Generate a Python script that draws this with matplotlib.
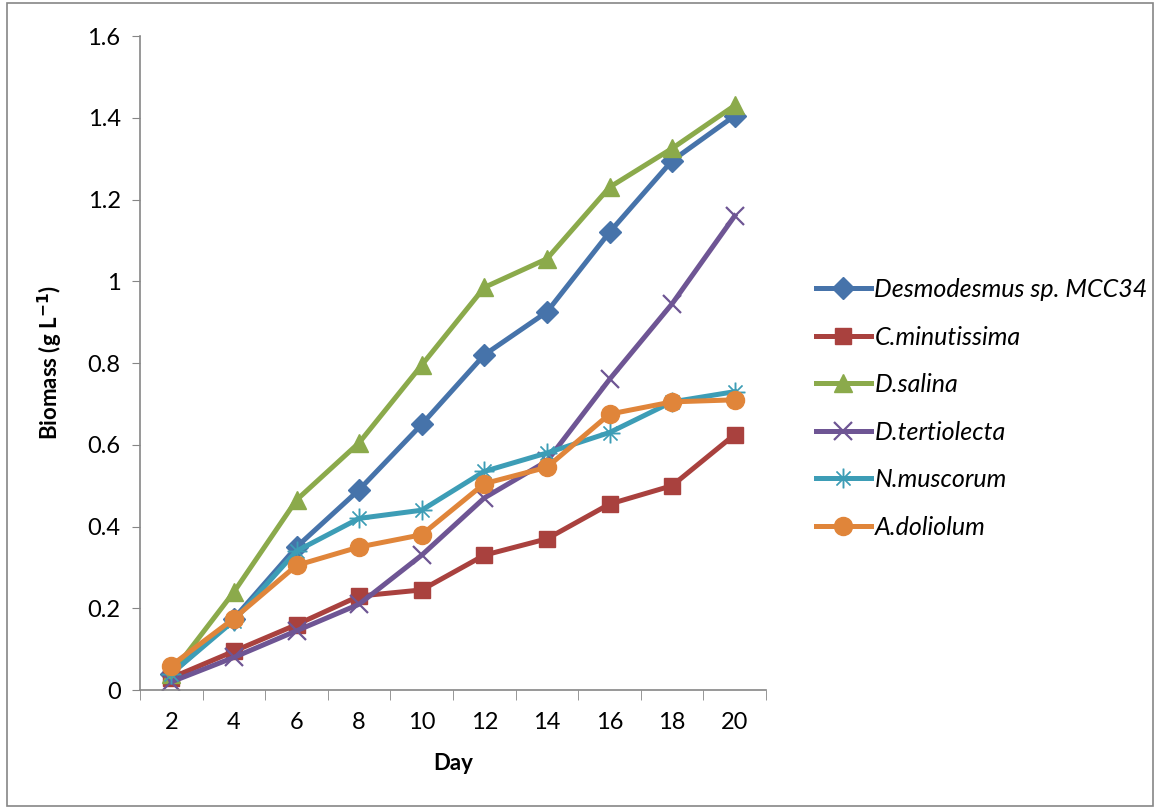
import matplotlib.pyplot as plt
from matplotlib.patches import Rectangle

days = [2, 4, 6, 8, 10, 12, 14, 16, 18, 20]

desmodesmus = [0.04, 0.175, 0.35, 0.49, 0.65, 0.82, 0.925, 1.12, 1.295, 1.405]
c_minutissima = [0.03, 0.095, 0.16, 0.23, 0.245, 0.33, 0.37, 0.455, 0.50, 0.625]
d_salina = [0.04, 0.24, 0.465, 0.605, 0.795, 0.985, 1.055, 1.23, 1.325, 1.43]
d_tertiolecta = [0.02, 0.08, 0.145, 0.21, 0.33, 0.47, 0.56, 0.76, 0.945, 1.16]
n_muscorum = [0.04, 0.17, 0.34, 0.42, 0.44, 0.535, 0.58, 0.63, 0.705, 0.73]
a_doliolum = [0.06, 0.175, 0.305, 0.35, 0.38, 0.505, 0.545, 0.675, 0.705, 0.71]

y_ticks = [0, 0.2, 0.4, 0.6, 0.8, 1.0, 1.2, 1.4, 1.6]
y_tick_labels = ["0", "0.2", "0.4", "0.6", "0.8", "1", "1.2", "1.4", "1.6"]

series = [
    ("Desmodesmus sp. MCC34", desmodesmus, "#4673AA", "D", 11),
    ("C.minutissima", c_minutissima, "#A9413E", "s", 12),
    ("D.salina", d_salina, "#8BAA4B", "^", 13),
    ("D.tertiolecta", d_tertiolecta, "#6E5594", "x", 13),
    ("N.muscorum", n_muscorum, "#3D9DB6", "*", 14),
    ("A.doliolum", a_doliolum, "#E0853A", "o", 13),
]

plt.rcParams['font.family'] = ['Lato', 'DejaVu Sans']

fig = plt.figure(figsize=(11.58, 8.09), dpi=100)
ax = fig.add_axes([0.1209, 0.147, 0.5406, 0.8085])

pos = list(range(len(days)))
for name, vals, col, mk, ms in series:
    if mk == "x":
        ax.plot(pos, vals, color=col, lw=3.6, marker=mk, ms=ms, mew=1.6, label=name)
    elif mk == "*":
        ax.plot(pos, vals, color=col, lw=3.6, marker="$\u2733$", ms=ms, mew=0.3, label=name)
    else:
        ax.plot(pos, vals, color=col, lw=3.6, marker=mk, ms=ms, mec=col, label=name)

ax.set_xlim(-0.5, len(days) - 0.5)
ax.set_ylim(0, 1.6)
ax.set_yticks(y_ticks)
ax.set_yticklabels(y_tick_labels, fontsize=17)
ax.set_xticks(pos)
ax.set_xticklabels([str(d) for d in days], fontsize=17)
ax.set_xticks([p - 0.5 for p in range(len(days) + 1)], minor=True)
ax.tick_params(axis='x', which='major', length=0, pad=16)
ax.tick_params(axis='x', which='minor', length=7, color='#868686', direction='out')
ax.tick_params(axis='y', length=6, color='#868686', direction='out', pad=8)

for s in ['top', 'right']:
    ax.spines[s].set_visible(False)
for s in ['left', 'bottom']:
    ax.spines[s].set_color('#868686')
    ax.spines[s].set_linewidth(1.2)

ax.set_xlabel("Day", fontsize=16, fontweight='bold', labelpad=14)
ax.set_ylabel(r"Biomass (g L$^{\mathbf{-1}}$)", fontsize=16, fontweight='bold', labelpad=16)

leg = fig.legend(loc='upper left', bbox_to_anchor=(0.685, 0.684), frameon=False,
                 prop={'style': 'italic', 'size': 18}, handlelength=2.2,
                 labelspacing=0.98, handletextpad=0.15)

fig.patches.append(Rectangle((0.006, 0.004), 0.99, 0.992, transform=fig.transFigure,
                             fill=False, edgecolor='#868686', lw=1.2))

plt.savefig("out.png", dpi=100)
